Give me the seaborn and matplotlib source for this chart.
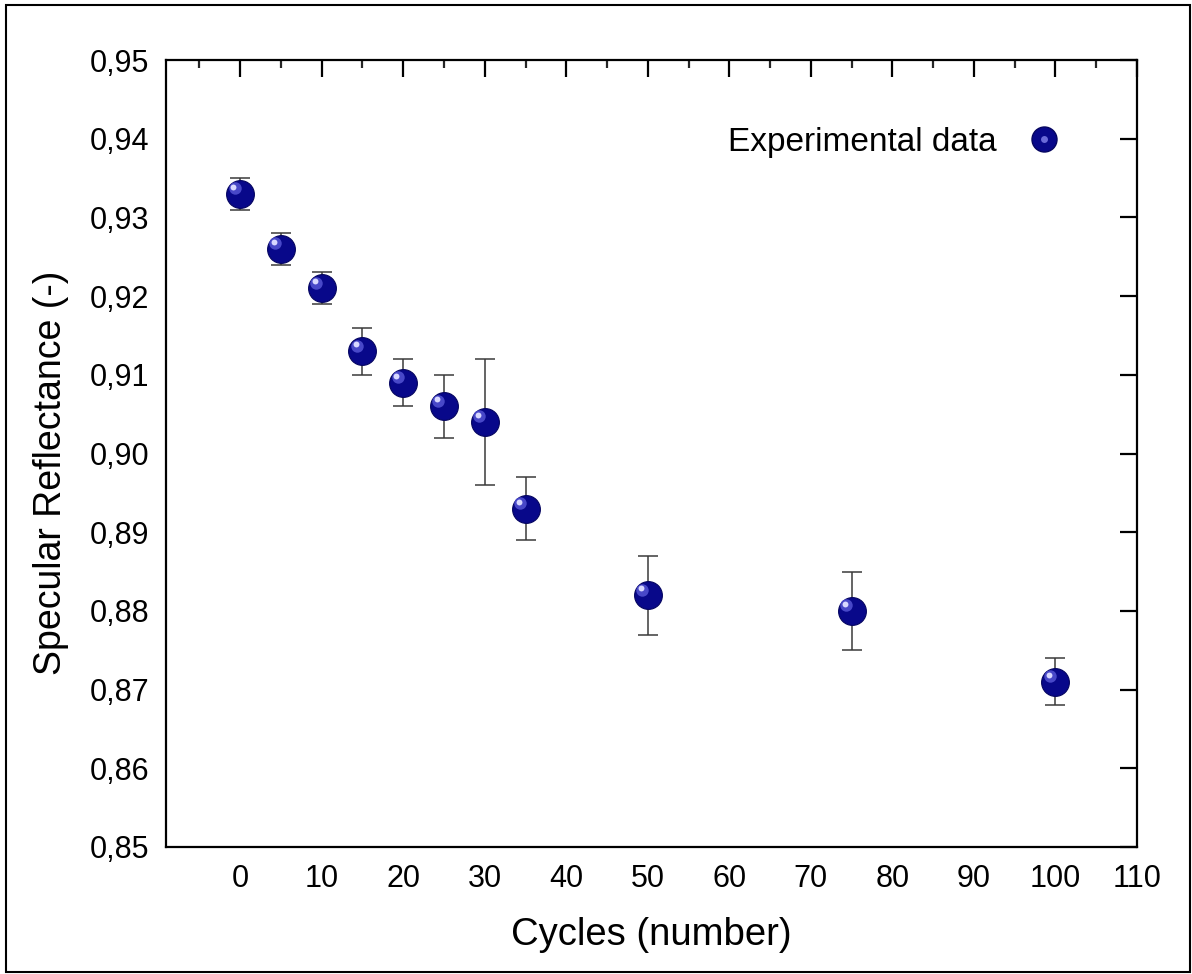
import numpy as np
import pandas as pd
import matplotlib
matplotlib.use("Agg")
import matplotlib.pyplot as plt
import matplotlib.transforms as mtransforms
from matplotlib.lines import Line2D
from matplotlib.legend_handler import HandlerTuple
from matplotlib.patches import Rectangle
import seaborn as sns

# ---- data ----
cycles = [0, 5, 10, 15, 20, 25, 30, 35, 50, 75, 100]
reflectance = [0.933, 0.926, 0.921, 0.913, 0.909, 0.906, 0.904, 0.893, 0.882, 0.880, 0.871]
err = [0.002, 0.002, 0.002, 0.003, 0.003, 0.004, 0.008, 0.004, 0.005, 0.005, 0.003]
x_ticks = [0, 10, 20, 30, 40, 50, 60, 70, 80, 90, 100, 110]
y_ticks = [0.85, 0.86, 0.87, 0.88, 0.89, 0.90, 0.91, 0.92, 0.93, 0.94, 0.95]
y_tick_labels = ["0,85", "0,86", "0,87", "0,88", "0,89", "0,90", "0,91", "0,92", "0,93", "0,94", "0,95"]
series_label = "Experimental data"

df = pd.DataFrame({"cycles": cycles, "refl": reflectance, "err": err})

sns.set_theme(style="white")
plt.rcParams['font.family'] = ['Liberation Sans', 'DejaVu Sans']
plt.rcParams['text.color'] = 'black'
plt.rcParams['axes.labelcolor'] = 'black'

fig = plt.figure(figsize=(11.92, 9.74), dpi=100)
ax = fig.add_axes([166/1192, 1-847/974, (1137-166)/1192, (847-60)/974])

navy = "#08088a"
ax.errorbar(df["cycles"], df["refl"], yerr=df["err"], fmt="none",
            ecolor="#3a3a3a", elinewidth=1.1, capsize=7, capthick=1.1, zorder=2)
sns.scatterplot(data=df, x="cycles", y="refl", ax=ax, s=400, color=navy,
                edgecolor="#050560", linewidth=0.8, zorder=3, legend=False)
# specular highlight
off = mtransforms.ScaledTranslation(-4/72, 4/72, fig.dpi_scale_trans)
ax.scatter(df["cycles"], df["refl"], s=80, color="#4848c8", linewidth=0,
           zorder=4, transform=ax.transData + off)
off2 = mtransforms.ScaledTranslation(-5/72, 5/72, fig.dpi_scale_trans)
ax.scatter(df["cycles"], df["refl"], s=18, color="#d8d8ff", linewidth=0,
           zorder=5, transform=ax.transData + off2)

ax.set_xlim(-9.1, 110)
ax.set_ylim(0.85, 0.95)
ax.set_xticks(x_ticks)
ax.set_xticks(np.arange(-5, 110, 10), minor=True)
ax.set_yticks(y_ticks)
ax.set_yticklabels(y_tick_labels)

for s in ax.spines.values():
    s.set_visible(True)
    s.set_color("black")
    s.set_linewidth(1.6)

ax.tick_params(axis="both", which="major", direction="in", length=12, width=1.6,
               top=True, right=True, labelsize=22, colors="black", labelcolor="black")
ax.tick_params(axis="both", which="minor", direction="in", length=6, width=1.6,
               top=True, right=True)
ax.tick_params(axis="x", which="major", pad=12)
ax.tick_params(axis="y", which="major", pad=12)
ax.tick_params(axis="y", which="minor", left=False, right=False)

ax.set_xlabel("Cycles (number)", fontsize=27.5, labelpad=17, color="black")
ax.set_ylabel("Specular Reflectance (-)", fontsize=27, color="black")
ax.yaxis.set_label_coords(-0.100, 0.476)

h = (Line2D([], [], marker="o", ls="none", markersize=18, markerfacecolor=navy,
            markeredgecolor="#050560"),
     Line2D([], [], marker="o", ls="none", markersize=5, markerfacecolor="#6a6ad8",
            markeredgecolor="none"))
ax.legend([h], [series_label], handler_map={tuple: HandlerTuple(ndivide=1)},
          loc="center right", bbox_to_anchor=(0.952, 0.895), frameon=False, fontsize=24,
          markerfirst=False, handletextpad=0.9, handlelength=1.0)

fig.patches.append(Rectangle((6/1192, 1-972/974), (1190-6)/1192, (972-5)/974,
                             transform=fig.transFigure, fill=False,
                             edgecolor="black", linewidth=1.5))

fig.savefig("out.png", dpi=100)
